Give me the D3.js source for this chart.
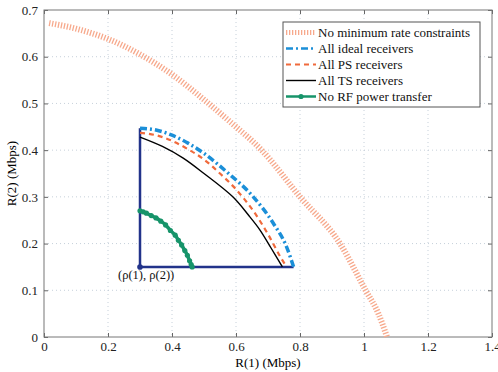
<!DOCTYPE html>
<html>
<head>
<meta charset="utf-8">
<script src="https://cdn.jsdelivr.net/npm/d3@7"></script>
<style>
  body { margin: 0; background: #fff; }
</style>
</head>
<body>
<div id="chart"></div>
<script>
const MARGIN = { TOP: 10, BOTTOM: 35, LEFT: 44, RIGHT: 6 }
const W = 498, H = 372
const WIDTH = W - MARGIN.LEFT - MARGIN.RIGHT
const HEIGHT = H - MARGIN.TOP - MARGIN.BOTTOM
const FONT = "'Liberation Serif', 'Times New Roman', Times, 'DejaVu Serif', serif"

const xTicks = [0, 0.2, 0.4, 0.6, 0.8, 1, 1.2, 1.4]
const yTicks = [0, 0.1, 0.2, 0.3, 0.4, 0.5, 0.6, 0.7]

// no minimum rate constraints
const noMinR1 = [0.016, 0.1, 0.2, 0.3, 0.4, 0.5, 0.581, 0.68, 0.8, 0.925, 1.005, 1.045, 1.072]
const noMinR2 = [0.672, 0.66, 0.638, 0.605, 0.562, 0.508, 0.461, 0.40, 0.30, 0.20, 0.10, 0.05, 0.0]

const idealR1 = [0.3, 0.35, 0.4, 0.45, 0.5, 0.57, 0.654, 0.717, 0.758, 0.78]
const idealR2 = [0.447, 0.443, 0.432, 0.415, 0.393, 0.354, 0.30, 0.243, 0.193, 0.15]

const psR1 = [0.3, 0.35, 0.4, 0.45, 0.5, 0.55, 0.6, 0.654, 0.7, 0.74, 0.758]
const psR2 = [0.437, 0.432, 0.42, 0.402, 0.38, 0.35, 0.316, 0.27, 0.22, 0.17, 0.15]

const tsR1 = [0.3, 0.37, 0.435, 0.5, 0.59, 0.64, 0.675, 0.71, 0.745]
const tsR2 = [0.428, 0.408, 0.383, 0.35, 0.30, 0.26, 0.229, 0.19, 0.15]

const noRfR1 = [0.3, 0.31, 0.32, 0.335, 0.35, 0.365, 0.38, 0.395, 0.41, 0.42, 0.43, 0.44, 0.448, 0.455, 0.46, 0.463]
const noRfR2 = [0.27, 0.268, 0.265, 0.26, 0.255, 0.248, 0.24, 0.228, 0.218, 0.207, 0.197, 0.185, 0.175, 0.163, 0.155, 0.15]

const rho = [0.3, 0.15]

const legendLabels = ["No minimum rate constraints", "All ideal receivers", "All PS receivers", "All TS receivers", "No RF power transfer"]

const zip = (a, b) => a.map((v, i) => [v, b[i]])

const svg = d3.select("#chart").append("svg")
  .attr("width", W).attr("height", H)
  .attr("font-family", FONT)
const g = svg.append("g").attr("transform", `translate(${MARGIN.LEFT}, ${MARGIN.TOP})`)

const x = d3.scaleLinear().domain([0, 1.4]).range([0, WIDTH])
const y = d3.scaleLinear().domain([0, 0.7]).range([HEIGHT, 0])

g.append("rect").attr("width", WIDTH).attr("height", HEIGHT).attr("fill", "#fff")

// grid
g.selectAll(".gx").data(xTicks.slice(1, -1)).join("line")
  .attr("x1", d => x(d)).attr("x2", d => x(d)).attr("y1", 0).attr("y2", HEIGHT)
  .attr("stroke", "#b8c4d0").attr("stroke-width", 0.8).attr("stroke-dasharray", "1,3")
g.selectAll(".gy").data(yTicks.slice(1, -1)).join("line")
  .attr("y1", d => y(d)).attr("y2", d => y(d)).attr("x1", 0).attr("x2", WIDTH)
  .attr("stroke", "#b8c4d0").attr("stroke-width", 0.8).attr("stroke-dasharray", "1,3")

// axes (matlab style, ticks inside, box)
const fmt = d => d === 0 ? "0" : (d === 1 ? "1" : d3.format(".1f")(d))
const styleAxis = sel => {
  sel.attr("font-family", FONT).attr("font-size", 13)
  sel.select(".domain").remove()
  sel.selectAll("line").attr("stroke", "#666")
  sel.selectAll("text").attr("fill", "#222")
}
g.append("g").attr("transform", `translate(0, ${HEIGHT})`)
  .call(d3.axisBottom(x).tickValues(xTicks).tickFormat(fmt).tickSizeInner(-4).tickPadding(5))
  .call(styleAxis)
g.append("g").call(d3.axisTop(x).tickValues(xTicks).tickFormat("").tickSizeInner(-4)).call(styleAxis)
g.append("g")
  .call(d3.axisLeft(y).tickValues(yTicks).tickFormat(fmt).tickSizeInner(-4).tickPadding(6))
  .call(styleAxis)
g.append("g").attr("transform", `translate(${WIDTH}, 0)`)
  .call(d3.axisRight(y).tickValues(yTicks).tickFormat("").tickSizeInner(-4)).call(styleAxis)
g.append("rect").attr("width", WIDTH).attr("height", HEIGHT)
  .attr("fill", "none").attr("stroke", "#777").attr("stroke-width", 1)

const line = d3.line().x(d => x(d[0])).y(d => y(d[1])).curve(d3.curveMonotoneX)
const lineLin = d3.line().x(d => x(d[0])).y(d => y(d[1]))

const styles = [
  { color: "#f7a98c", width: 6, dash: "1.3,1.7" },
  { color: "#1b8fd8", width: 3.5, dash: "7,3,2,3" },
  { color: "#f06a3c", width: 2.2, dash: "5,4" },
  { color: "#000", width: 1.4, dash: null },
  { color: "#17946a", width: 3.5, dash: null }
]
const series = [zip(noMinR1, noMinR2), zip(idealR1, idealR2), zip(psR1, psR2), zip(tsR1, tsR2), zip(noRfR1, noRfR2)]

// feasibility region box
const navy = "#22338a"
g.append("path")
  .attr("d", lineLin([[rho[0], idealR2[0]], rho, [idealR1[idealR1.length - 1], rho[1]]]))
  .attr("fill", "none").attr("stroke", navy).attr("stroke-width", 2.5)

series.forEach((s, i) => {
  g.append("path").attr("d", i === 3 ? d3.line().x(d => x(d[0])).y(d => y(d[1])).curve(d3.curveCatmullRom)(s) : line(s))
    .attr("fill", "none").attr("stroke", styles[i].color)
    .attr("stroke-width", styles[i].width)
    .attr("stroke-dasharray", styles[i].dash)
})
g.selectAll(".mk").data(series[4]).join("circle")
  .attr("cx", d => x(d[0])).attr("cy", d => y(d[1])).attr("r", 2.6).attr("fill", styles[4].color)

g.append("circle").attr("cx", x(rho[0])).attr("cy", y(rho[1])).attr("r", 2.8).attr("fill", navy)
g.append("text").attr("x", x(rho[0]) - 22).attr("y", y(rho[1]) + 12)
  .attr("font-size", 12.5).attr("fill", "#111").text("(ρ(1), ρ(2))")

// axis labels
svg.append("text").attr("x", MARGIN.LEFT + WIDTH / 2).attr("y", H - 5)
  .attr("text-anchor", "middle").attr("font-size", 13).text("R(1) (Mbps)")
svg.append("text").attr("transform", `translate(16, ${MARGIN.TOP + HEIGHT / 2}) rotate(-90)`)
  .attr("text-anchor", "middle").attr("font-size", 13).text("R(2) (Mbps)")

// legend
const lg = svg.append("g").attr("transform", "translate(283, 22)")
lg.append("rect").attr("width", 197).attr("height", 85).attr("fill", "#fff")
  .attr("stroke", "#555").attr("stroke-width", 1)
legendLabels.forEach((t, i) => {
  const yy = 10.5 + i * 16
  lg.append("line").attr("x1", 3).attr("x2", 33).attr("y1", yy).attr("y2", yy)
    .attr("stroke", styles[i].color).attr("stroke-width", i === 0 ? 5 : Math.min(styles[i].width, 2.5))
    .attr("stroke-dasharray", styles[i].dash)
  if (i === 4) lg.append("circle").attr("cx", 18).attr("cy", yy).attr("r", 2.6).attr("fill", styles[4].color)
  lg.append("text").attr("x", 35).attr("y", yy + 4.5).attr("font-size", 13).attr("fill", "#111").text(t)
})
</script>
</body>
</html>
